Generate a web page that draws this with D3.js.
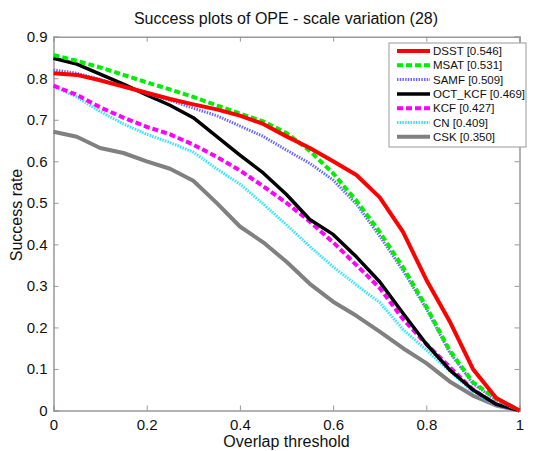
<!DOCTYPE html>
<html>
<head>
<meta charset="utf-8">
<script src="https://cdn.jsdelivr.net/npm/d3@7"></script>
<style>
  body { margin: 0; background: #fff; }
  svg text { font-family: "Liberation Sans", Arial, sans-serif; fill: #111; }
</style>
</head>
<body>
<div class="canvas"></div>
<script>
/* ----------- DATA ----------- */
const thresholds = d3.range(0, 21).map(i => i / 20);
const trackers = ['DSST [0.546]', 'MSAT [0.531]', 'SAMF [0.509]', 'OCT_KCF [0.469]', 'KCF [0.427]', 'CN [0.409]', 'CSK [0.350]'];

const dsst = [0.812, 0.808, 0.795, 0.78, 0.765, 0.75, 0.737, 0.725, 0.71, 0.69, 0.66, 0.632, 0.6, 0.567, 0.513, 0.43, 0.315, 0.215, 0.1, 0.03, 0];
const msat = [0.856, 0.842, 0.826, 0.808, 0.79, 0.773, 0.755, 0.735, 0.715, 0.696, 0.668, 0.625, 0.571, 0.505, 0.43, 0.345, 0.25, 0.145, 0.068, 0.028, 0];
const samf = [0.82, 0.812, 0.797, 0.78, 0.763, 0.747, 0.728, 0.71, 0.685, 0.66, 0.627, 0.595, 0.555, 0.497, 0.42, 0.337, 0.245, 0.14, 0.065, 0.025, 0];
const octKcf = [0.848, 0.834, 0.81, 0.786, 0.76, 0.735, 0.705, 0.66, 0.615, 0.572, 0.52, 0.46, 0.424, 0.37, 0.31, 0.234, 0.16, 0.098, 0.05, 0.015, 0];
const kcf = [0.782, 0.76, 0.73, 0.705, 0.683, 0.665, 0.64, 0.611, 0.578, 0.54, 0.5, 0.455, 0.405, 0.35, 0.295, 0.22, 0.16, 0.105, 0.05, 0.015, 0];
const cn = [0.78, 0.755, 0.72, 0.69, 0.665, 0.645, 0.622, 0.582, 0.545, 0.497, 0.447, 0.395, 0.346, 0.302, 0.26, 0.195, 0.146, 0.095, 0.045, 0.012, 0];
const csk = [0.671, 0.659, 0.632, 0.62, 0.6, 0.582, 0.553, 0.5, 0.443, 0.405, 0.358, 0.305, 0.262, 0.228, 0.19, 0.15, 0.114, 0.07, 0.036, 0.012, 0];

const xTicks = [0, 0.2, 0.4, 0.6, 0.8, 1];
const yTicks = [0, 0.1, 0.2, 0.3, 0.4, 0.5, 0.6, 0.7, 0.8, 0.9];

const seriesValues = [dsst, msat, samf, octKcf, kcf, cn, csk];
const styles = [
  { color: '#ff0000', width: 4, dash: null },
  { color: '#00ee00', width: 4, dash: '6,3' },
  { color: '#6a6aff', width: 3, dash: '1.5,1.2' },
  { color: '#000000', width: 3.5, dash: null },
  { color: '#ff00ff', width: 4, dash: '6,3' },
  { color: '#33e5ff', width: 3, dash: '1.5,1.2' },
  { color: '#808080', width: 4, dash: null }
];

/* ----------- CONTAINER & GRAPH ----------- */
const width = 533, height = 451;
const margin = { top: 36.7, right: 13.5, bottom: 40.5, left: 53.5 };
const graphWidth = width - margin.left - margin.right;
const graphHeight = height - margin.top - margin.bottom;

const svg = d3.select('.canvas')
    .append('svg')
    .attr('width', width)
    .attr('height', height);

const graph = svg.append('g')
    .attr('transform', `translate(${margin.left},${margin.top})`);

/* ----------- SCALES & AXES ------------- */
const x = d3.scaleLinear().domain([0, 1]).range([0, graphWidth]);
const y = d3.scaleLinear().domain([0, 0.9]).range([graphHeight, 0]);

const fmt = d => d === 0 ? '0' : (d === 1 ? '1' : d3.format('.1f')(d));

const xAxis = graph.append('g')
    .attr('transform', `translate(0,${graphHeight})`)
    .call(d3.axisBottom(x).tickValues(xTicks).tickSize(-5).tickPadding(9).tickFormat(fmt));
const yAxis = graph.append('g')
    .call(d3.axisLeft(y).tickValues(yTicks).tickSize(-5).tickPadding(6).tickFormat(fmt));
const xTop = graph.append('g')
    .call(d3.axisTop(x).tickValues(xTicks).tickSize(-5).tickFormat(''));
const yRight = graph.append('g')
    .attr('transform', `translate(${graphWidth},0)`)
    .call(d3.axisRight(y).tickValues(yTicks).tickSize(-5).tickFormat(''));

[xAxis, yAxis, xTop, yRight].forEach(a => {
  a.select('.domain').attr('stroke', '#999').attr('stroke-width', 1.5);
  a.selectAll('.tick line').attr('stroke', '#999');
  a.selectAll('.tick text')
    .style('font-family', '"Liberation Sans", Arial, sans-serif')
    .style('font-size', '15px')
    .attr('fill', '#111');
});

/* ----------- LINES ----------- */
const line = d3.line()
    .x((d, i) => x(thresholds[i]))
    .y(d => y(d));

seriesValues.forEach((vals, i) => {
  const s = styles[styles.length - 1 - i] && styles[i];
});

// draw in reverse so DSST is on top
d3.range(seriesValues.length - 1, -1, -1).forEach(i => {
  graph.append('path')
    .datum(seriesValues[i])
    .attr('fill', 'none')
    .attr('stroke', styles[i].color)
    .attr('stroke-width', styles[i].width)
    .attr('stroke-dasharray', styles[i].dash)
    .attr('stroke-linejoin', 'round')
    .attr('d', line);
});

/* ----------- TITLE & LABELS ----------- */
svg.append('text')
    .attr('x', 286).attr('y', 24)
    .attr('text-anchor', 'middle')
    .style('font-size', '16px')
    .text('Success plots of OPE - scale variation (28)');

svg.append('text')
    .attr('x', 286.5).attr('y', 447)
    .attr('text-anchor', 'middle')
    .style('font-size', '16px')
    .text('Overlap threshold');

svg.append('text')
    .attr('transform', 'translate(22,215) rotate(-90)')
    .attr('text-anchor', 'middle')
    .style('font-size', '16px')
    .text('Success rate');

/* ----------- LEGEND ----------- */
const legend = svg.append('g').attr('transform', 'translate(389,43)');
legend.append('rect')
    .attr('width', 137).attr('height', 104)
    .attr('fill', '#fff')
    .attr('stroke', '#999');

trackers.forEach((name, i) => {
  const ly = 8 + i * 14.3;
  legend.append('line')
    .attr('x1', 8).attr('x2', 41)
    .attr('y1', ly).attr('y2', ly)
    .attr('stroke', styles[i].color)
    .attr('stroke-width', styles[i].width)
    .attr('stroke-dasharray', styles[i].dash);
  legend.append('text')
    .attr('x', 44).attr('y', ly + 4)
    .style('font-size', '11.5px')
    .text(name);
});
</script>
</body>
</html>
